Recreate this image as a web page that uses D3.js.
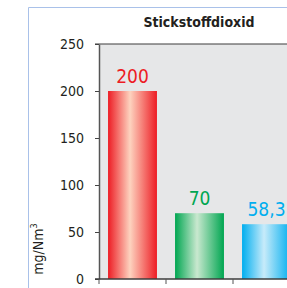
<!DOCTYPE html>
<html>
<head>
<meta charset="utf-8">
<script src="https://cdn.jsdelivr.net/npm/d3@7"></script>
<style>
  html, body { margin: 0; padding: 0; background: #fff; }
  svg { display: block; }
  text { font-family: "DejaVu Sans Condensed", "DejaVu Sans", sans-serif; font-stretch: condensed; }
</style>
</head>
<body>
<script>
const categories = ['a', 'b', 'c']
const values = [200, 70, 58.3]
const valueLabels = ['200', '70', '58,3']
const colors = ['#ed1c24', '#00a651', '#00aeef']
const lightColors = ['#fdd3bf', '#c9e8cf', '#c7ebfa']
const yTicks = [0, 50, 100, 150, 200, 250]

const width = 287
const height = 288
const margin = { top: 44, left: 99, bottom: 9 }

const svg = d3.select('body').append('svg')
  .attr('width', width)
  .attr('height', height)

// frame
svg.append('path')
  .attr('d', `M28.5,${height} V7.5 H${width}`)
  .attr('fill', 'none')
  .attr('stroke', '#a9c1e9')
  .attr('stroke-width', 1)

const x = d3.scaleBand()
  .domain(categories)
  .range([margin.left, 300])
  .paddingInner(0.27)
  .paddingOuter(0.135)

const y = d3.scaleLinear()
  .domain([0, 250])
  .range([height - margin.bottom, margin.top])

// gradients
const defs = svg.append('defs')
categories.forEach((c, i) => {
  const g = defs.append('linearGradient')
    .attr('id', 'grad' + i)
    .attr('x1', 0).attr('x2', 1).attr('y1', 0).attr('y2', 0)
  g.append('stop').attr('offset', '0%').attr('stop-color', colors[i])
  g.append('stop').attr('offset', '45%').attr('stop-color', lightColors[i])
  g.append('stop').attr('offset', '100%').attr('stop-color', colors[i])
})

// plot background
svg.append('rect')
  .attr('x', margin.left)
  .attr('y', y(250))
  .attr('width', width - margin.left)
  .attr('height', y(0) - y(250))
  .attr('fill', '#e6e7e8')

// top border line
svg.append('line')
  .attr('x1', margin.left - 4).attr('x2', width)
  .attr('y1', y(250)).attr('y2', y(250))
  .attr('stroke', '#3c3c3c')
  .attr('stroke-width', 1.2)

// bars
svg.selectAll('rect.bar')
  .data(values)
  .enter()
  .append('rect')
  .attr('class', 'bar')
  .attr('x', (d, i) => x(categories[i]))
  .attr('y', d => y(d))
  .attr('width', x.bandwidth())
  .attr('height', d => y(0) - y(d))
  .attr('fill', (d, i) => `url(#grad${i})`)

// value labels
svg.selectAll('text.val')
  .data(values)
  .enter()
  .append('text')
  .attr('class', 'val')
  .attr('x', (d, i) => x(categories[i]) + x.bandwidth() / 2)
  .attr('y', d => y(d) - 8)
  .attr('text-anchor', 'middle')
  .attr('font-size', 19)
  .attr('fill', (d, i) => colors[i])
  .text((d, i) => valueLabels[i])

// y axis
const yAxis = svg.append('g')
  .attr('transform', `translate(${margin.left},0)`)
  .call(d3.axisLeft(y).tickValues(yTicks).tickSize(4).tickPadding(11).tickSizeOuter(0))
yAxis.select('.domain').attr('stroke', '#555').attr('stroke-width', 1.5)
yAxis.selectAll('.tick line').attr('stroke', '#444')
yAxis.selectAll('.tick text')
  .attr('font-size', 14)
  .attr('fill', '#231f20')
  .style('font-family', '"DejaVu Sans Condensed", "DejaVu Sans", sans-serif')
  .style('font-stretch', 'condensed')

// x axis
const xTicks = categories.map(c => x(c) - x.step() * x.paddingInner() / 2)
const xAxis = svg.append('g')
xAxis.append('line')
  .attr('x1', margin.left - 4).attr('x2', width)
  .attr('y1', y(0)).attr('y2', y(0))
  .attr('stroke', '#3c3c3c')
  .attr('stroke-width', 1.5)
xAxis.selectAll('line.tick')
  .data(xTicks)
  .enter()
  .append('line')
  .attr('class', 'tick')
  .attr('x1', d => d).attr('x2', d => d)
  .attr('y1', y(0)).attr('y2', y(0) + 5)
  .attr('stroke', '#555')

// y axis title
svg.append('text')
  .attr('transform', 'translate(43,249) rotate(-90)')
  .attr('text-anchor', 'middle')
  .attr('font-size', 14)
  .attr('fill', '#231f20')
  .html('mg/Nm<tspan dy="-6" font-size="9">3</tspan>')

// title
svg.append('text')
  .attr('x', 199)
  .attr('y', 27)
  .attr('text-anchor', 'middle')
  .attr('font-size', 14)
  .attr('font-weight', 'bold')
  .attr('fill', '#231f20')
  .text('Stickstoffdioxid')
</script>
</body>
</html>
